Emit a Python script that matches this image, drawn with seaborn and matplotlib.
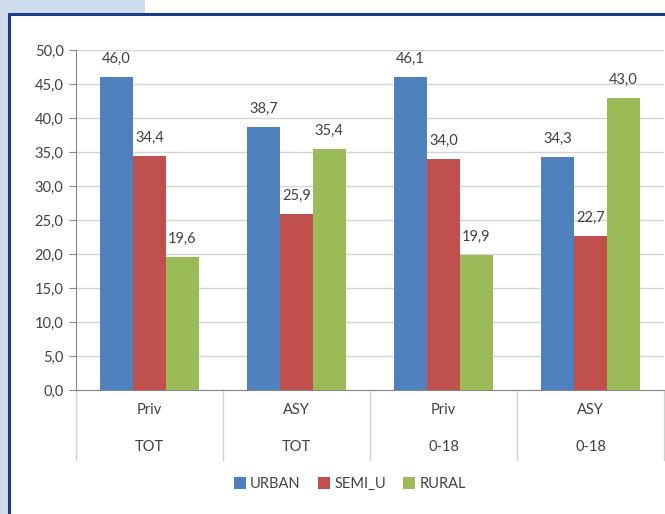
import seaborn as sns
import matplotlib.pyplot as plt
import matplotlib.patches as mpatches
import matplotlib.transforms as mtransforms
import pandas as pd

# chart values
groups = ["Priv\nTOT", "ASY\nTOT", "Priv\n0-18", "ASY\n0-18"]
row1 = ["Priv", "ASY", "Priv", "ASY"]
row2 = ["TOT", "TOT", "0-18", "0-18"]
series = ["URBAN", "SEMI_U", "RURAL"]
urban = [46.0, 38.7, 46.1, 34.3]
semi_u = [34.4, 25.9, 34.0, 22.7]
rural = [19.6, 35.4, 19.9, 43.0]
colors = ["#4f81bd", "#c0504d", "#9bbb59"]

df = pd.DataFrame({
    "group": groups * 3,
    "area": [s for s in series for _ in groups],
    "value": urban + semi_u + rural,
})

sns.set_style("white")
plt.rcParams['font.family'] = ['Lato', 'DejaVu Sans']
fs = 10.5
txt = "#404040"

fig = plt.figure(figsize=(6.65, 5.14), dpi=100)
fig.patch.set_facecolor("white")
W, H = 665, 514
# background frame pieces (light blue strip + dark blue border)
fig.patches.append(mpatches.Rectangle((0, 0), 8 / W, 1, transform=fig.transFigure,
                                      facecolor="#cfdcee", edgecolor="none", zorder=0))
fig.patches.append(mpatches.Rectangle((0, 1 - 14 / H), 145 / W, 14 / H, transform=fig.transFigure,
                                      facecolor="#cfdcee", edgecolor="none", zorder=0))
fig.add_artist(plt.Line2D([9 / W, 9 / W], [0, 1 - 14 / H], transform=fig.transFigure,
                          color="#1c3c88", lw=2.2))
fig.add_artist(plt.Line2D([9 / W, 1], [1 - 14 / H, 1 - 14 / H], transform=fig.transFigure,
                          color="#1c3c88", lw=2.2))

ax = fig.add_axes([76 / W, 1 - 390 / H, 588 / W, 340 / H])
sns.barplot(data=df, x="group", y="value", hue="area", palette=colors,
            width=0.67, saturation=1, ax=ax, legend=True, zorder=3,
            edgecolor="none", linewidth=0)

for cont in ax.containers:
    ax.bar_label(cont, labels=[f"{v:.1f}".replace(".", ",") for v in cont.datavalues],
                 padding=8, fontsize=fs, color=txt)

ax.set_xlim(-0.5, 3.5)
ax.set_ylim(0, 50)
ax.set_yticks([i * 5 for i in range(11)])
ax.set_yticklabels([f"{i * 5:.1f}".replace(".", ",") for i in range(11)], fontsize=fs, color=txt)
ax.yaxis.grid(True, color="#d4d4d4", lw=1, zorder=0)
ax.set_axisbelow(True)
ax.tick_params(axis="y", left=True, length=5, color="#868686", pad=4)
ax.set_xticks([])
ax.set_xlabel("")
ax.set_ylabel("")
for side in ["top", "right"]:
    ax.spines[side].set_visible(False)
ax.spines["left"].set_color("#868686")
ax.spines["bottom"].set_color("#868686")

# two-row category axis
trans = mtransforms.blended_transform_factory(ax.transData, ax.transAxes)
for i in range(len(groups)):
    ax.text(i, -20 / 340, row1[i], transform=trans, ha="center", va="center", fontsize=fs, color=txt)
    ax.text(i, -57 / 340, row2[i], transform=trans, ha="center", va="center", fontsize=fs, color=txt)
for x in [-0.5, 0.5, 1.5, 2.5, 3.5]:
    ax.plot([x, x], [0, -70 / 340], transform=trans, color="#d0d0d0", lw=1, clip_on=False)

handles, labels = ax.get_legend_handles_labels()
ax.legend(handles, labels, loc="center", bbox_to_anchor=(350 / W, 1 - 484 / H),
          bbox_transform=fig.transFigure, ncol=3, frameon=False, fontsize=fs,
          handlelength=0.8, handleheight=0.8, handletextpad=0.3, columnspacing=1.2,
          labelcolor=txt)

fig.savefig("out.png", dpi=100)
